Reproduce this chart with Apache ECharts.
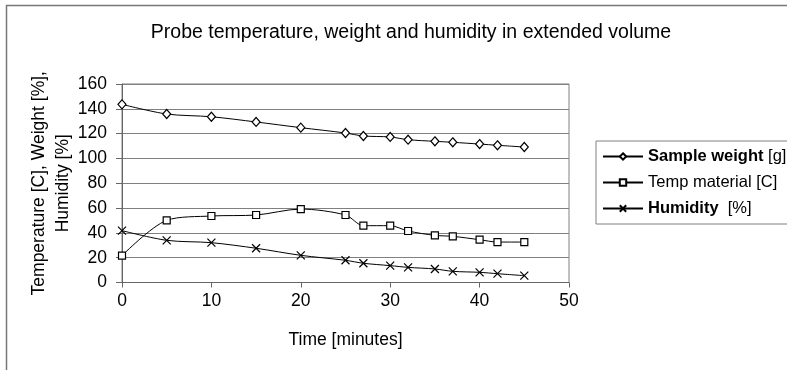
<!DOCTYPE html>
<html>
<head>
<meta charset="utf-8">
<script src="https://cdn.jsdelivr.net/npm/echarts@6/dist/echarts.min.js"></script>
<style>
  html, body { margin: 0; padding: 0; background: #fff; }
  #chart { width: 787px; height: 370px; }
</style>
</head>
<body>
<div id="chart"></div>
<script>
// Sampling times in minutes
const timeMinutes = [0, 5, 10, 15, 20, 25, 27, 30, 32, 35, 37, 40, 42, 45];
// Measured series
const sampleWeight = [143.6, 135.8, 133.6, 129.4, 124.8, 120.5, 118.1, 117.3, 115.1, 113.8, 113.0, 111.6, 110.6, 109.2];
const tempMaterial = [21.6, 50.1, 53.6, 54.4, 59.2, 54.4, 45.8, 45.8, 41.5, 38.0, 37.2, 34.5, 32.6, 32.6];
const humidity = [41.8, 34.0, 32.1, 27.6, 21.9, 17.9, 15.5, 13.6, 12.2, 10.9, 9.0, 8.2, 7.1, 5.5];

const FONT = '"Liberation Sans", Arial, sans-serif';
const FS = 17.5;
const LEGEND_FS = 16.5;
const crossPath = 'path://M0,0L10,10M10,0L0,10';

function pairs(values) {
  return timeMinutes.map((t, i) => [t, values[i]]);
}

function lineSeries(name, values, symbol, size) {
  return {
    name: name,
    type: 'line',
    data: pairs(values),
    smooth: 0.3,
    symbol: symbol,
    symbolSize: size,
    showAllSymbol: true,
    lineStyle: { color: '#000', width: 1 },
    itemStyle: { color: '#fff', borderColor: '#000', borderWidth: 1.2 },
    emphasis: { disabled: true },
    z: 3
  };
}

const chart = echarts.init(document.getElementById('chart'), null, { renderer: 'canvas' });
chart.setOption({
  animation: false,
  backgroundColor: '#fff',
  textStyle: { fontFamily: FONT, color: '#000' },
  title: {
    text: 'Probe temperature, weight and humidity in extended volume',
    left: 406,
    textAlign: 'center',
    top: 18,
    textStyle: { fontFamily: FONT, fontSize: 19.5, fontWeight: 'normal', color: '#000' }
  },
  grid: {
    left: 122, right: 218, top: 84, bottom: 87.5,
    show: true, borderColor: '#808080', borderWidth: 1
  },
  xAxis: {
    type: 'value',
    min: 0, max: 50, interval: 10,
    name: 'Time [minutes]',
    nameLocation: 'middle',
    nameGap: 49,
    nameTextStyle: { fontFamily: FONT, fontSize: FS, color: '#000' },
    axisLine: { show: true, lineStyle: { color: '#666', width: 1 } },
    axisTick: { show: true, length: 5, inside: false, lineStyle: { color: '#666' } },
    axisLabel: { margin: 10, fontFamily: FONT, fontSize: FS, color: '#000' },
    splitLine: { show: false }
  },
  yAxis: {
    type: 'value',
    min: 0, max: 160, interval: 20,
    name: 'Temperature [C], Weight [%],\nHumidity [%]',
    nameLocation: 'middle',
    nameGap: 47,
    nameMoveOverlap: false,
    nameRotate: 90,
    nameTextStyle: { fontFamily: FONT, fontSize: FS, color: '#000', lineHeight: 24 },
    axisLine: { show: true, lineStyle: { color: '#666', width: 1 } },
    axisTick: { show: true, length: 6, lineStyle: { color: '#666' } },
    axisLabel: { margin: 15, fontFamily: FONT, fontSize: FS, color: '#000' },
    splitLine: { show: true, lineStyle: { color: '#808080', width: 1 } }
  },
  legend: {
    orient: 'vertical',
    left: 596, top: 141,
    padding: [7, 10, 7, 6],
    itemGap: 9,
    itemWidth: 40,
    itemHeight: 8,
    borderColor: '#808080',
    borderWidth: 1,
    backgroundColor: '#fff',
    data: ['Sample weight', 'Temp material', 'Humidity'],
    formatter: function (name) {
      if (name === 'Sample weight') return '{b|Sample weight} [g]';
      if (name === 'Temp material') return 'Temp material [C]';
      return '{b|Humidity}  [%]';
    },
    textStyle: {
      fontFamily: FONT, fontSize: LEGEND_FS, color: '#000',
      rich: { b: { fontFamily: FONT, fontSize: LEGEND_FS, fontWeight: 'bold', color: '#000' } }
    }
  },
  graphic: [{
    type: 'rect',
    shape: { x: 6.5, y: 5.5, width: 900, height: 500 },
    style: { fill: 'none', stroke: '#777', lineWidth: 1.5 },
    silent: true,
    z: 0
  }],
  series: [
    lineSeries('Sample weight', sampleWeight, 'diamond', [8, 9]),
    lineSeries('Temp material', tempMaterial, 'rect', 7),
    lineSeries('Humidity', humidity, crossPath, 8)
  ]
});
</script>
</body>
</html>
